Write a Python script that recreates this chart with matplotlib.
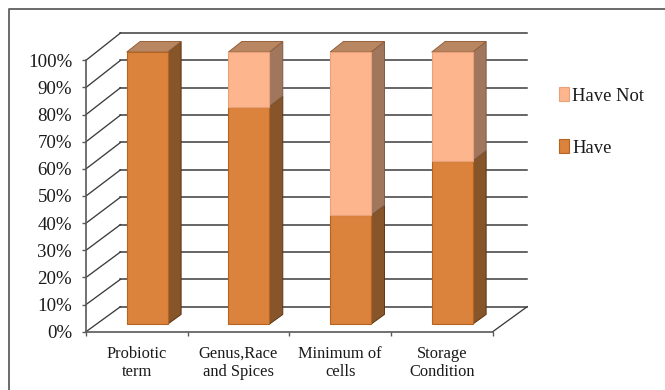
import matplotlib
matplotlib.use("Agg")
import matplotlib.pyplot as plt
from matplotlib.lines import Line2D
from matplotlib.patches import Patch, Polygon

plt.rcParams['font.family'] = ['Liberation Serif', 'DejaVu Serif']

categories = ["Probiotic\nterm", "Genus,Race\nand Spices", "Minimum of\ncells", "Storage\nCondition"]
have = [100, 80, 40, 60]
have_not = [0, 20, 60, 40]
percent_ticks = [0, 10, 20, 30, 40, 50, 60, 70, 80, 90, 100]

W, H = 665, 390
# oblique depth of the box, in data units
DEPTH_X = 0.339
BAR_WIDTH = 0.403
BAR_FRONT, BAR_BACK = 0.30, 0.69

have_col = ("#DB823D", "#87552A", "#B98662", "#B5651F")
not_col = ("#FDB58E", "#A0765C", "#B98662", "#E8A27A")
GRID = "#3C3C3C"
AXIS = "#595959"


def proj_y(v, t):
    # y position of value v at depth t (0 front, 1 back wall)
    back = 9.21 + v * 1.0085
    return v + t * (back - v)


def draw_segment(ax, i, lo, hi, col, top):
    face, side, lid, edge = col
    x0 = i + 0.5 - BAR_WIDTH / 2 + BAR_FRONT * DEPTH_X
    x1 = x0 + BAR_WIDTH
    dx = (BAR_BACK - BAR_FRONT) * DEPTH_X
    y0, y1 = proj_y(lo, BAR_FRONT), proj_y(hi, BAR_FRONT)
    by0, by1 = proj_y(lo, BAR_BACK), proj_y(hi, BAR_BACK)
    ax.add_patch(Polygon([(x1, y0), (x1 + dx, by0), (x1 + dx, by1), (x1, y1)],
                         fc=side, ec="#5E3512" if col is have_col else "#7E5A44",
                         lw=0.7, clip_on=False, zorder=3))
    if top:
        ax.add_patch(Polygon([(x0, y1), (x0 + dx, by1), (x1 + dx, by1), (x1, y1)],
                             fc=lid, ec="#94603A", lw=0.7, clip_on=False, zorder=3))
    ax.add_patch(Polygon([(x0, y0), (x1, y0), (x1, y1), (x0, y1)],
                         fc=face, ec=edge, lw=0.8, clip_on=False, zorder=4))


fig = plt.figure(figsize=(W / 100, H / 100), dpi=100)
ax = fig.add_axes([86 / W, 1 - 331.7 / H, 406.7 / W, 271.4 / H])
ax.set_xlim(0, 4)
ax.set_ylim(0, 100)

# outer frame, only left and top show
fig.add_artist(Line2D([9 / W, 9 / W, 1], [0, 1 - 9 / H, 1 - 9 / H], color="#5F5F5F", lw=1.3))

# back wall and left wall lines
for v in percent_ticks:
    by = proj_y(v, 1)
    ax.plot([0, DEPTH_X], [v, by], color=GRID, lw=0.95, clip_on=False, zorder=1)
    ax.plot([DEPTH_X, 4 + DEPTH_X], [by, by], color=GRID, lw=1.1, clip_on=False, zorder=1)
ax.plot([4, 4 + DEPTH_X], [0, proj_y(0, 1)], color=GRID, lw=0.95, clip_on=False, zorder=1)

for i in range(len(categories)):
    if have[i] > 0:
        draw_segment(ax, i, 0, have[i], have_col, have_not[i] == 0)
    if have_not[i] > 0:
        draw_segment(ax, i, have[i], have[i] + have_not[i], not_col, True)

for s in ("top", "right"):
    ax.spines[s].set_visible(False)
for s in ("left", "bottom"):
    ax.spines[s].set_color(AXIS)
    ax.spines[s].set_linewidth(1.2)

ax.set_yticks(percent_ticks)
ax.set_yticklabels(["%d%%" % v for v in percent_ticks], fontsize=13.6, color="#1A1A1A")
ax.tick_params(axis="y", length=3, width=1, color=AXIS, pad=7)

ax.set_xticks(range(5))
ax.set_xticklabels([])
ax.set_xticks([i + 0.5 for i in range(4)], labels=categories, minor=True)
ax.tick_params(axis="x", which="major", length=3, width=1, color=AXIS)
ax.tick_params(axis="x", which="minor", length=0, pad=10, labelsize=11.9, labelcolor="#1A1A1A")
for lab in ax.get_xticklabels(minor=True):
    lab.set_linespacing(1.22)

handles = [Patch(fc=not_col[0], ec=not_col[3], lw=0.8, label="Have Not"),
           Patch(fc=have_col[0], ec=have_col[3], lw=0.8, label="Have")]
fig.legend(handles=handles, loc="center left", bbox_to_anchor=(550 / W, 1 - 122 / H),
           frameon=False, fontsize=13.4, handlelength=0.5, handleheight=0.75,
           handletextpad=0.2, labelspacing=1.85, borderpad=0, labelcolor="#1A1A1A")

fig.savefig("out.png", dpi=100)
